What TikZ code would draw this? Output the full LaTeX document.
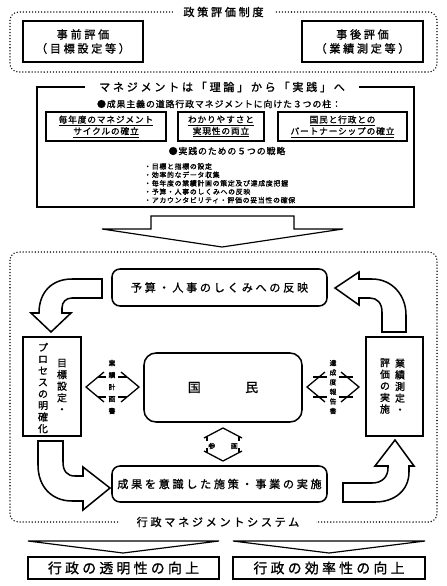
\documentclass[tikz,border=0pt]{standalone}
\usepackage{fontspec}
\setmainfont[FakeBold=1.2,AutoFakeBold=1.2]{Noto Sans CJK JP}
\newfontfamily\jpw[LetterSpace=24,FakeBold=1.2]{Noto Sans CJK JP}
\newfontfamily\jpn[LetterSpace=10,FakeBold=1.2]{Noto Sans CJK JP}
\tikzset{
  dotframe/.style={line width=1.3pt,line cap=round,dash pattern=on 0pt off 2.6pt,rounded corners=0.25cm},
  frametitle/.style={fill=white,inner ysep=1pt,font=\jpw\fontsize{9.5}{11}\selectfont},
  sqbox/.style={draw,line width=1.3pt,align=center,inner sep=0pt},
  rbox/.style={sqbox,rounded corners=0.24cm},
  pillar/.style={sqbox,line width=1.1pt,font=\jpn\fontsize{7.4}{9.9}\selectfont},
  tate/.style={align=center,inner sep=0pt,font=\fontsize{8.5}{9.9}\selectfont},
  smalltate/.style={align=center,inner sep=0pt,font=\fontsize{5.8}{10.2}\selectfont},
  chevron/.style={line width=1.1pt},
  blockarrow/.style={line width=1.3pt,fill=white,line join=miter},
}
\begin{document}
\begin{tikzpicture}[x=0.03cm,y=-0.03cm]
\useasboundingbox (0,0) rectangle (446,586);

% policy evaluation
\draw[dotframe] (10,12) rectangle (437,72);
\node[frametitle,inner xsep=9pt] (seido) at (223.5,12) {政策評価制度};
\node[sqbox,line width=1.6pt,minimum width=3.6cm,minimum height=1.23cm,font=\jpw\fontsize{9.5}{12}\selectfont] (jizen) at (83,41.5) {事前評価\\（目標設定等）};
\node[sqbox,line width=1.6pt,minimum width=3.63cm,minimum height=1.23cm,font=\jpw\fontsize{9.5}{12}\selectfont] (jigo) at (362.5,41.5) {事後評価\\（業績測定等）};

% management
\draw[line width=0.9pt] (37,87) rectangle (414,207);
\node[frametitle,inner xsep=12pt] (riron) at (222,87) {マネジメントは「理論」から「実践」へ};
\node[font=\jpn\fontsize{7.6}{9}\selectfont] (hashira) at (219,104) {●成果主義の道路行政マネジメントに向けた３つの柱：};
\node[pillar,minimum width=3.6cm,minimum height=0.87cm] (cycle) at (106,126.5) {\underline{毎年度のマネジメント}\\\underline{サイクルの確立}};
\node[pillar,minimum width=2.58cm,minimum height=0.87cm] (wakari) at (221,126.5) {\underline{わかりやすさと}\\\underline{実現性の両立}};
\node[pillar,minimum width=3.87cm,minimum height=0.87cm] (partner) at (342.5,126.5) {\underline{国民と行政との}\\\underline{パートナーシップの確立}};
\node[font=\jpn\fontsize{7.6}{9}\selectfont] (senryaku) at (227,151) {●実践のための５つの戦略};
\node[anchor=north west,align=left,inner sep=0pt,font=\jpn\fontsize{5.9}{7.2}\selectfont] (list) at (144,163) {・目標と指標の設定\\・効率的なデータ収集\\・毎年度の業績計画の策定及び達成度把握\\・予算・人事のしくみへの反映\\・アカウンタビリティ・評価の妥当性の確保};

\draw[line width=1pt,fill=white] (151,216) -- (294,216) -- (294,229) -- (343,229) -- (222,247) -- (102,229) -- (151,229) -- cycle;

% management system
\draw[dotframe] (10,252) rectangle (437,522);
\node[frametitle,inner xsep=14.5pt] (system) at (218,522) {行政マネジメントシステム};

\node[rbox,minimum width=6.45cm,minimum height=1.11cm,font=\jpw\fontsize{9.5}{11}\selectfont] (hanei) at (219.5,287.5) {予算・人事のしくみへの反映};
\node[rbox,minimum width=6.45cm,minimum height=1.08cm,font=\jpw\fontsize{9.5}{11}\selectfont] (jisshi) at (219.5,484) {成果を意識した施策・事業の実施};
\node[rbox,rounded corners=0.36cm,minimum width=4.74cm,minimum height=2.07cm,font=\fontsize{11}{13}\selectfont] (kokumin) at (223,387.5) {国\hspace{38pt}民};
\node[sqbox,minimum width=1.74cm,minimum height=2.97cm] (mokuhyo) at (52,386.5) {};
\node[sqbox,minimum width=1.71cm,minimum height=2.97cm] (sokutei) at (394.5,386.5) {};
\node[tate] (mokuhyoL) at (43,388) {プ\\ロ\\セ\\ス\\の\\明\\確\\化};
\node[tate] (mokuhyoR) at (62,386) {目\\標\\設\\定\\・};
\node[tate] (sokuteiL) at (385,386) {評\\価\\の\\実\\施};
\node[tate] (sokuteiR) at (400,386) {業\\績\\測\\定\\・};

% double arrows
\node[smalltate] (keikaku) at (112,387) {業\\績\\計\\画\\書};
\draw[chevron] (104,372) -- (86,387) -- (104,402) (121,372) -- (139,387) -- (121,402);
\draw[chevron] (98,377) -- (106,377) (118,377) -- (127,377) (98,397) -- (106,397) (118,397) -- (127,397);
\node[smalltate,font=\fontsize{5.8}{8.2}\selectfont] (hokoku) at (333,387) {達\\成\\度\\報\\告\\書};
\draw[chevron] (325,372) -- (307,387) -- (325,402) (341,372) -- (359,387) -- (341,402);
\draw[chevron] (313,377) -- (327,377) (339,377) -- (353,377) (313,397) -- (327,397) (339,397) -- (353,397);
\node[font=\fontsize{5.8}{7}\selectfont,inner sep=0pt] (sankaku) at (223,446) {参\hspace{13.5pt}画};
\draw[chevron] (204,438) -- (223,428) -- (242,438) (204,451) -- (223,461) -- (242,451);
\draw[chevron] (207,436.5) -- (207,441) (239,436.5) -- (239,441) (207,448) -- (207,452.5) (239,448) -- (239,452.5);

% cycle arrows
\draw[blockarrow] (102,279) -- (72,279) .. controls (52,279) and (39,292) .. (39,313) -- (31,313) -- (51,332) -- (71,313) -- (62,313) -- (62,308) .. controls (62,302) and (66,298) .. (72,298) -- (102,298) -- cycle;
\draw[blockarrow] (359,279) -- (372,279) .. controls (392,279) and (406,295) .. (406,315) -- (406,332) -- (382,332) -- (382,312) .. controls (382,303) and (377,298) .. (370,298) -- (359,298) -- (359,305) -- (335,288) -- (359,272) -- cycle;
\draw[blockarrow] (38,441) -- (63,441) -- (63,462) .. controls (63,471) and (67,476) .. (75,476) -- (83,476) -- (83,467) -- (110,488) -- (83,510) -- (83,501) -- (72,501) .. controls (52,501) and (38,487) .. (38,465) -- cycle;
\draw[blockarrow] (343,483) -- (372,483) .. controls (382,483) and (388,477) .. (388,468) -- (388,466) -- (375,466) -- (395,440) -- (414,466) -- (409,466) -- (409,472) .. controls (409,490) and (395,502) .. (375,502) -- (343,502) -- cycle;

% results
\draw[line width=1pt] (28,541) -- (219,541) -- (123,553) -- cycle;
\draw[line width=1pt] (233,541) -- (425,541) -- (329,553) -- cycle;
\node[sqbox,line width=1.1pt,minimum width=5.73cm,minimum height=0.66cm,font=\jpw\fontsize{11.8}{13}\selectfont] (tomei) at (123.5,568) {行政の透明性の向上};
\node[sqbox,line width=1.1pt,minimum width=5.76cm,minimum height=0.66cm,font=\jpw\fontsize{11.8}{13}\selectfont] (koritsu) at (329,568) {行政の効率性の向上};
\end{tikzpicture}
\end{document}
